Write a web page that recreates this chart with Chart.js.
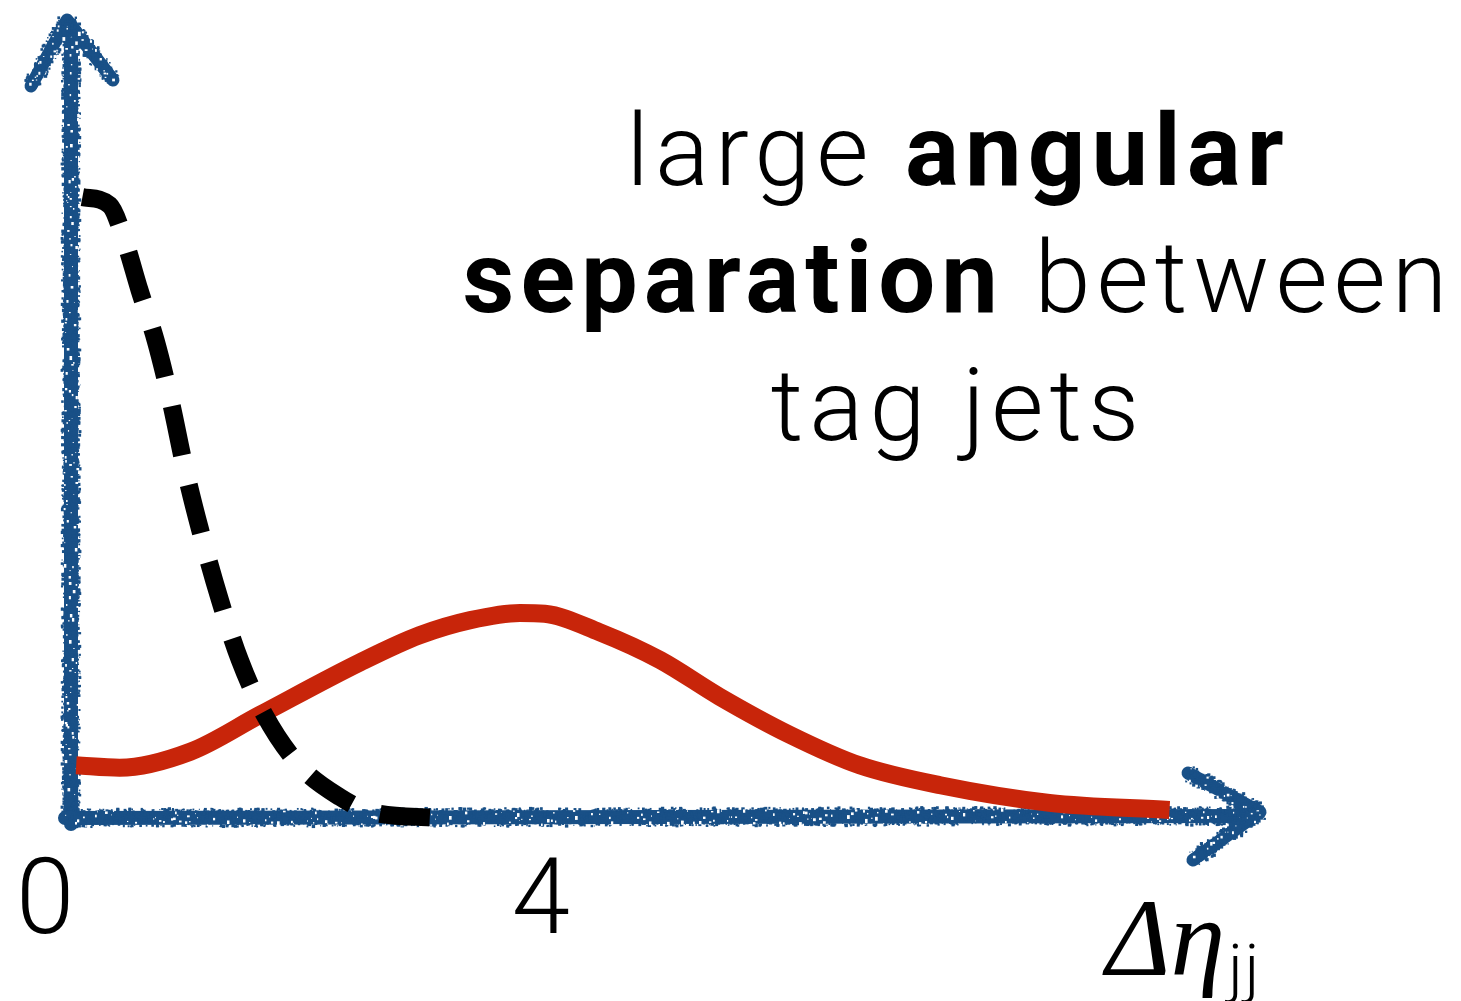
<!DOCTYPE html>
<html>
<head>
<meta charset="utf-8">
<script src="https://cdn.jsdelivr.net/npm/chart.js@4.4.1/dist/chart.umd.min.js"></script>
<style>
  html, body { margin: 0; padding: 0; background: #fff; }
  #wrap { width: 1461px; height: 1001px; }
</style>
</head>
<body>
<div id="wrap"><canvas id="etaChart" width="1461" height="1001"></canvas></div>
<script>
// signal (VBF) and background shapes vs. delta eta of the two tag jets
const signalX = [0.05, 0.40, 0.97, 1.53, 2.34, 2.82, 3.23, 3.63, 3.83, 4.27, 4.76, 5.24, 5.81, 6.37, 7.02, 7.90, 8.87];
const signalY = [0.66, 0.63, 0.83, 1.29, 1.95, 2.29, 2.48, 2.57, 2.56, 2.33, 1.98, 1.52, 1.04, 0.66, 0.41, 0.19, 0.10];
const bkgX = [0.10, 0.32, 0.44, 0.56, 0.69, 0.81, 0.93, 1.05, 1.21, 1.37, 1.57, 1.85, 2.18, 2.42, 2.98];
const bkgY = [7.78, 7.68, 7.24, 6.62, 5.99, 5.24, 4.36, 3.61, 2.73, 1.98, 1.29, 0.66, 0.26, 0.08, 0.00];
const tickValues = [0, 4];
const noteLines = [
  [{ text: 'large ', bold: false }, { text: 'angular', bold: true }],
  [{ text: 'separation', bold: true }, { text: ' between', bold: false }],
  [{ text: 'tag jets', bold: false }]
];

const BLUE = 'rgb(25, 80, 135)';
const RED = 'rgb(200, 37, 10)';
const SANS = '"Roboto", "Lato", "Liberation Sans", sans-serif';

// small seeded generator so the chalk texture is the same every time
function mulberry32(a) {
  return function () {
    a |= 0; a = a + 0x6D2B79F5 | 0;
    let t = Math.imul(a ^ a >>> 15, 1 | a);
    t = t + Math.imul(t ^ t >>> 7, 61 | t) ^ t;
    return ((t ^ t >>> 14) >>> 0) / 4294967296;
  };
}

function chalk(ctx, rand, pts, w) {
  ctx.strokeStyle = BLUE;
  ctx.lineWidth = w - 3;
  ctx.lineCap = 'round';
  ctx.lineJoin = 'round';
  ctx.beginPath();
  pts.forEach(([x, y], i) => (i ? ctx.lineTo(x, y) : ctx.moveTo(x, y)));
  ctx.stroke();

  for (let i = 1; i < pts.length; i++) {
    const [x1, y1] = pts[i - 1], [x2, y2] = pts[i];
    const len = Math.hypot(x2 - x1, y2 - y1);
    const ux = (x2 - x1) / len, uy = (y2 - y1) / len;
    const nx = -uy, ny = ux;
    ctx.fillStyle = BLUE;
    for (let s = 0; s < len; s += 1.2) {
      const px = x1 + ux * s, py = y1 + uy * s;
      for (let k = 0; k < 3; k++) {
        const off = (rand() * 2 - 1) * (w / 2 + 0.5);
        const sz = 1 + rand() * 2.4;
        ctx.fillRect(px + nx * off - sz / 2, py + ny * off - sz / 2, sz, sz);
      }
    }
    ctx.fillStyle = '#fff';
    for (let s = 0; s < len; s += 2) {
      if (rand() < 0.4) {
        const px = x1 + ux * s, py = y1 + uy * s;
        const off = (rand() * 2 - 1) * (w / 2 - 1);
        const sz = 0.8 + rand() * 2;
        ctx.fillRect(px + nx * off, py + ny * off, sz, sz * (0.6 + rand()));
      }
    }
  }
}

const chalkAxes = {
  id: 'chalkAxes',
  beforeDatasetsDraw(chart) {
    const { ctx, chartArea: a } = chart;
    const rand = mulberry32(11);
    const x0 = a.left + 1, y0 = a.bottom;
    ctx.save();
    chalk(ctx, rand, [[x0, y0 + 6], [x0, a.top + 6]], 17);
    chalk(ctx, rand, [[x0 - 40, a.top + 66], [x0 - 4, a.top], [x0 + 42, a.top + 60]], 16);
    chalk(ctx, rand, [[x0 - 6, y0], [a.right - 6, y0 - 2]], 17);
    chalk(ctx, rand, [[a.right - 72, y0 - 45], [a.right, y0 - 6], [a.right - 67, y0 + 42]], 16);
    ctx.restore();
  }
};

const notes = {
  id: 'notes',
  afterDraw(chart) {
    const ctx = chart.ctx;
    const cx = 958, baselines = [185, 312, 440];
    ctx.save();
    ctx.fillStyle = '#000';
    ctx.textBaseline = 'alphabetic';
    ctx.textAlign = 'left';
    ctx.letterSpacing = '6px';
    const fontOf = r => (r.bold ? '700 ' : '300 ') + '101px ' + SANS;
    noteLines.forEach((runs, i) => {
      const widths = runs.map(r => { ctx.font = fontOf(r); return ctx.measureText(r.text).width; });
      let x = cx - widths.reduce((s, v) => s + v, 0) / 2;
      runs.forEach((r, j) => {
        ctx.font = fontOf(r);
        ctx.fillText(r.text, x, baselines[i]);
        x += widths[j];
      });
    });

    // axis variable: delta eta_jj
    ctx.letterSpacing = '0px';
    ctx.font = 'italic 110px "Liberation Serif", serif';
    ctx.fillText('\u0394\u03B7', 1106, 975);
    const w = ctx.measureText('\u0394\u03B7').width;
    ctx.font = '300 64px ' + SANS;
    ctx.letterSpacing = '2px';
    ctx.fillText('jj', 1106 + w + 3, 990);
    ctx.restore();
  }
};

const toPoints = (xs, ys) => xs.map((x, i) => ({ x, y: ys[i] }));

new Chart(document.getElementById('etaChart'), {
  type: 'line',
  data: {
    datasets: [
      {
        label: 'background',
        data: toPoints(bkgX, bkgY),
        borderColor: '#000',
        borderWidth: 18,
        borderDash: [50, 30],
        borderCapStyle: 'butt',
        pointRadius: 0,
        cubicInterpolationMode: 'monotone',
        clip: false
      },
      {
        label: 'signal',
        data: toPoints(signalX, signalY),
        borderColor: RED,
        borderWidth: 18,
        borderCapStyle: 'butt',
        pointRadius: 0,
        cubicInterpolationMode: 'monotone',
        clip: false
      }
    ]
  },
  options: {
    responsive: false,
    animation: false,
    layout: { padding: { left: 70, right: 201, top: 20, bottom: 0 } },
    plugins: { legend: { display: false }, tooltip: { enabled: false }, title: { display: false } },
    scales: {
      x: {
        type: 'linear',
        min: 0,
        max: 9.6,
        border: { display: false },
        grid: { display: false, drawTicks: false },
        afterBuildTicks: scale => { scale.ticks = tickValues.map(v => ({ value: v })); },
        afterFit: scale => { scale.height = 183; },
        ticks: {
          autoSkip: false,
          maxRotation: 0,
          padding: 26,
          labelOffset: -25,
          color: '#000',
          font: { family: SANS, size: 105, weight: 300 },
          callback: v => String(v)
        }
      },
      y: { type: 'linear', min: 0, max: 10, display: false }
    }
  },
  plugins: [chalkAxes, notes]
});
</script>
</body>
</html>
